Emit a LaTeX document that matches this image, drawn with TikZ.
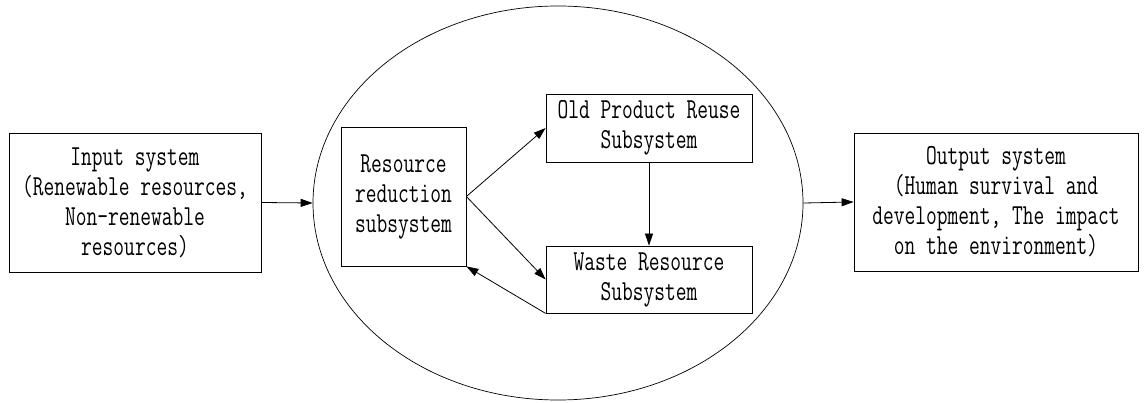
\documentclass[tikz,border=0pt]{standalone}
\usepackage{fontspec}
\usetikzlibrary{shapes.geometric,arrows.meta}
\newfontfamily\diagfont[FakeStretch=0.72]{Latin Modern Mono}
\begin{document}
\begin{tikzpicture}[x=1pt,y=-1pt,
  box/.style={draw,line width=0.8pt,rectangle,align=center,inner sep=0pt,
    font=\diagfont\fontsize{29}{30}\selectfont},
  arr/.style={line width=0.8pt,-{Triangle[length=12pt,width=8pt]}}]
\useasboundingbox (0,0) rectangle (1145,403);
\node[draw,ellipse,line width=0.7pt,minimum width=490pt,minimum height=394pt,inner sep=0pt] (ell) at (558,203) {};
\node[box,minimum width=252pt,minimum height=139pt] (in) at (135,202.5)
  {Input system\\(Renewable resources,\\Non-renewable\\resources)};
\node[box,minimum width=125pt,minimum height=139pt] (res) at (403.5,196.5)
  {Resource\\reduction\\subsystem};
\node[box,minimum width=206pt,minimum height=68pt] (old) at (649,128)
  {Old Product Reuse\\Subsystem};
\node[box,minimum width=206pt,minimum height=67pt] (waste) at (649,279.5)
  {Waste Resource\\Subsystem};
\node[box,minimum width=284pt,minimum height=138pt] (out) at (996,202)
  {Output system\\(Human survival and\\development, The impact\\on the environment)};
\draw[arr] (in.east) -- (ell.west);
\draw[arr] (ell.east) -- (out.west);
\draw[arr] (res.east) -- (old.west);
\draw[arr] (res.east) -- (waste.west);
\draw[arr] (old.south) -- (waste.north);
\draw[arr] (waste.south west) -- (res.south east);
\end{tikzpicture}
\end{document}
